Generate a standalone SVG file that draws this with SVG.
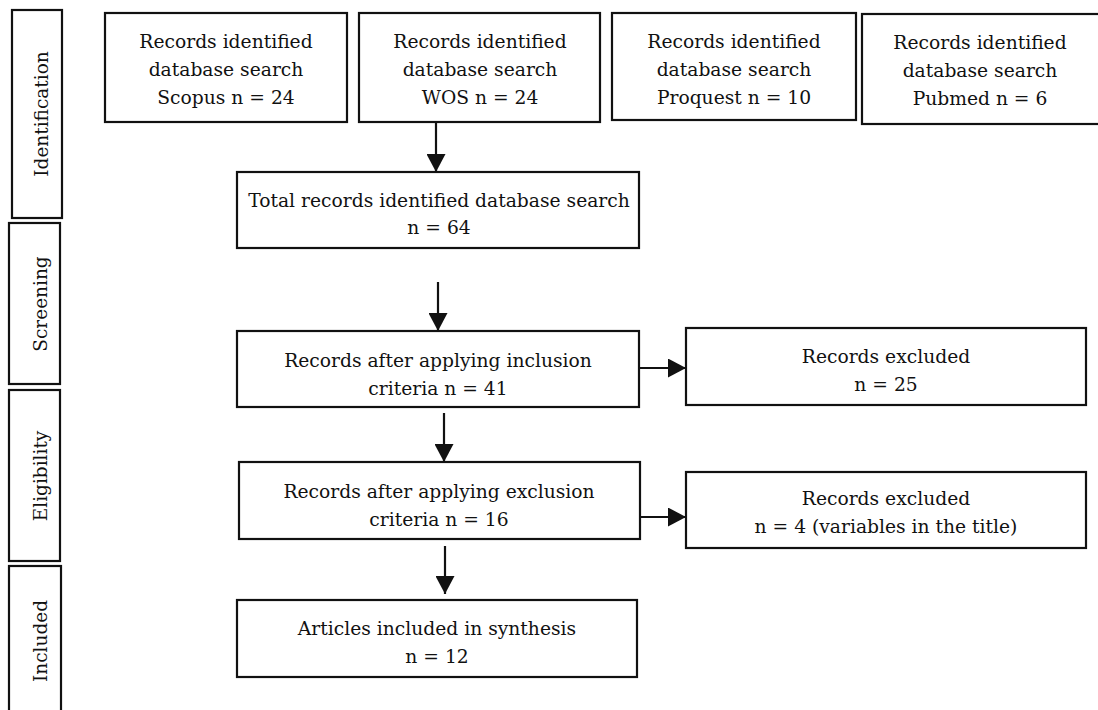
<svg xmlns="http://www.w3.org/2000/svg" width="1098" height="710" viewBox="0 0 1098 710">
<style>
.box{fill:#fff;stroke:#111;stroke-width:2.2}
.t{font-family:"DejaVu Serif","Liberation Serif",serif;font-size:18.7px;fill:#111;text-anchor:middle}
.s{font-family:"DejaVu Serif","Liberation Serif",serif;font-size:18.5px;fill:#111;text-anchor:middle}
.c{stroke:#111;stroke-width:2.2;fill:none;marker-end:url(#ah)}
</style>
<defs>
<marker id="ah" markerUnits="userSpaceOnUse" markerWidth="19" markerHeight="19" refX="18" refY="9.5" orient="auto">
<path d="M0,0 L18,9.5 L0,19 z" fill="#111"/>
</marker>
</defs>
<rect width="1098" height="710" fill="#fff"/>
<g id="stage-identification"><rect class="box" x="12" y="10" width="50" height="208"/><text class="s" transform="translate(48,114) rotate(-90)">Identification</text></g>
<g id="stage-screening"><rect class="box" x="9" y="223" width="51" height="161"/><text class="s" transform="translate(47,304) rotate(-90)">Screening</text></g>
<g id="stage-eligibility"><rect class="box" x="9" y="390" width="51" height="171"/><text class="s" transform="translate(47,476) rotate(-90)">Eligibility</text></g>
<g id="stage-included"><rect class="box" x="9" y="566" width="52" height="160"/><text class="s" transform="translate(47,641) rotate(-90)">Included</text></g>

<g id="scopus"><rect class="box" x="105" y="13" width="242" height="109"/><text class="t" x="226" y="48">Records identified</text><text class="t" x="226" y="76">database search</text><text class="t" x="226" y="104">Scopus n = 24</text></g>
<g id="wos"><rect class="box" x="359" y="13" width="241" height="109"/><text class="t" x="480" y="48">Records identified</text><text class="t" x="480" y="76">database search</text><text class="t" x="480" y="104">WOS n = 24</text></g>
<g id="proquest"><rect class="box" x="612" y="13" width="244" height="107"/><text class="t" x="734" y="48">Records identified</text><text class="t" x="734" y="76">database search</text><text class="t" x="734" y="104">Proquest n = 10</text></g>
<g id="pubmed"><rect class="box" x="862" y="14" width="240" height="110"/><text class="t" x="980" y="49">Records identified</text><text class="t" x="980" y="77">database search</text><text class="t" x="980" y="105">Pubmed n = 6</text></g>

<g id="total"><rect class="box" x="237" y="172" width="402" height="76"/><text class="t" x="439" y="207">Total records identified database search</text><text class="t" x="439" y="234">n = 64</text></g>
<g id="inclusion"><rect class="box" x="237" y="331" width="402" height="76"/><text class="t" x="438" y="367">Records after applying inclusion</text><text class="t" x="438" y="395">criteria n = 41</text></g>
<g id="excluded1"><rect class="box" x="686" y="328" width="400" height="77"/><text class="t" x="886" y="363">Records excluded</text><text class="t" x="886" y="391">n = 25</text></g>
<g id="exclusion"><rect class="box" x="239" y="462" width="401" height="77"/><text class="t" x="439" y="498">Records after applying exclusion</text><text class="t" x="439" y="526">criteria n = 16</text></g>
<g id="excluded2"><rect class="box" x="686" y="472" width="400" height="76"/><text class="t" x="886" y="505">Records excluded</text><text class="t" x="886" y="533">n = 4 (variables in the title)</text></g>
<g id="articles"><rect class="box" x="237" y="600" width="400" height="77"/><text class="t" x="437" y="635">Articles included in synthesis</text><text class="t" x="437" y="663">n = 12</text></g>

<g id="connectors">
<line class="c" x1="436" y1="122" x2="436" y2="172"/>
<line class="c" x1="438" y1="282" x2="438" y2="331"/>
<line class="c" x1="444" y1="413" x2="444" y2="462"/>
<line class="c" x1="445" y1="546" x2="445" y2="594"/>
<line class="c" x1="639" y1="368" x2="686" y2="368"/>
<line class="c" x1="640" y1="517" x2="686" y2="517"/>
</g>
</svg>
